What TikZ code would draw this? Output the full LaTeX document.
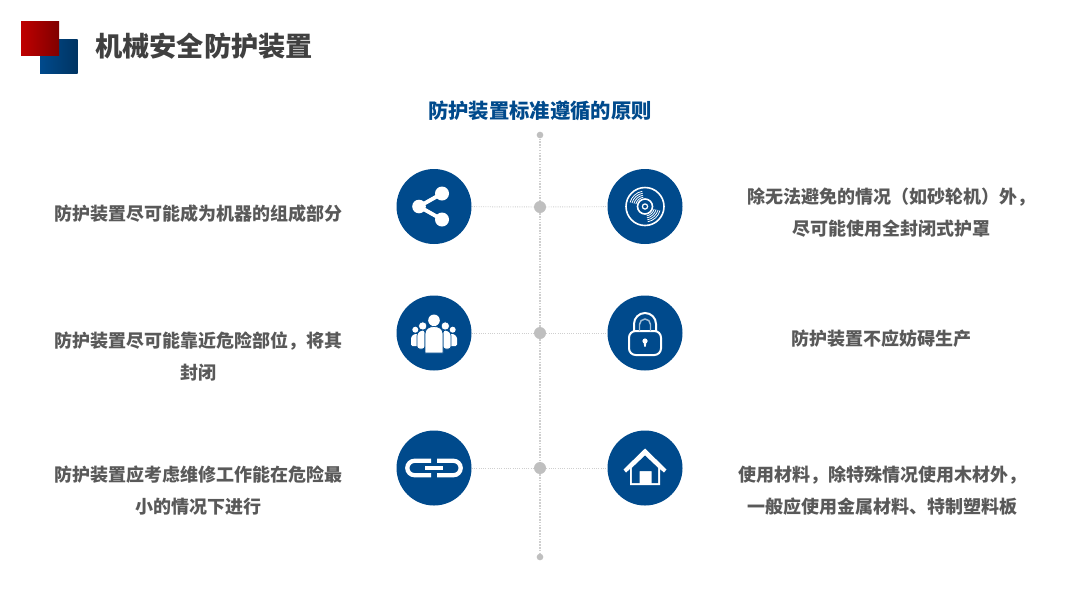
\documentclass[tikz,border=0pt]{standalone}
\usepackage{fontspec}
\setmainfont{Noto Sans CJK SC}
\definecolor{navy}{HTML}{004A8C}
\definecolor{ink}{HTML}{595959}
\definecolor{titleink}{HTML}{404040}
\definecolor{dotgrey}{HTML}{BFBFBF}
\definecolor{linegrey}{HTML}{CFCFCF}
\tikzset{
  disc/.style={circle,fill=navy,minimum size=56.25pt,inner sep=0pt},
  hub/.style={circle,fill=dotgrey,minimum size=9pt,inner sep=0pt},
  endhub/.style={circle,fill=dotgrey,minimum size=5pt,inner sep=0pt},
  link/.style={linegrey,line width=.7pt,densely dotted},
  spine/.style={linegrey,line width=1.1pt,densely dotted},
  body/.style={font=\fontsize{13.5}{24}\selectfont\bfseries,text=ink,align=center,inner sep=0pt},
  iconarea/.style={shift={(#1)},white,x=.75pt,y=.75pt},
}
\begin{document}
\begin{tikzpicture}[x=.75pt,y=-.75pt]
\useasboundingbox (0,0) rectangle (1080,608);
% header squares
\path[shading=axis,left color=navy,right color=navy!70!black,shading angle=90] (40,39) rectangle (77.5,73.5);
\path[shading=axis,left color=red!75!black,right color=red!50!black,shading angle=90] (21,21) rectangle (59,55.5);
\node[anchor=west,inner sep=0pt,text=titleink,font=\fontsize{20.4}{24}\selectfont\bfseries] (title) at (95,46) {机械安全防护装置};
\node[inner sep=0pt,text=navy,font=\fontsize{15.25}{20}\selectfont\bfseries] (sub) at (540,111) {防护装置标准遵循的原则};
% hubs
\node[endhub] (top) at (540,135) {};
\node[endhub] (bot) at (540,557) {};
\node[hub] (h1) at (540,207) {};
\node[hub] (h2) at (540,333) {};
\node[hub] (h3) at (540,468) {};
\draw[spine] (top) -- (h1);
\draw[spine] (h1) -- (h2);
\draw[spine] (h2) -- (h3);
\draw[spine] (h3) -- (bot);
% discs
\node[disc] (a1) at (434,206.5) {};
\node[disc] (b1) at (645,206.5) {};
\node[disc] (a2) at (434,333) {};
\node[disc] (b2) at (645,333) {};
\node[disc] (a3) at (434,468) {};
\node[disc] (b3) at (645,468) {};
\foreach \n in {1,2,3}{
  \draw[link] (a\n) -- (h\n);
  \draw[link] (h\n) -- (b\n);
}
% share icon
\begin{scope}[iconarea=a1]
  \draw[line width=2.9pt] (8,13)--(-15,0)--(8,-13);
  \fill (-15,0) circle[radius=6.8];
  \fill (8,13) circle[radius=7];
  \fill (8,-13) circle[radius=7];
\end{scope}
% disc icon
\begin{scope}[iconarea=b1]
  \draw[line width=1.2pt] (0,0) circle[radius=19];
  \draw[line width=1.2pt] (0,0) circle[radius=7.5];
  \draw[line width=.9pt] (0,0) circle[radius=2.6];
  \foreach \r in {9.5,11.5,13.5,15.5}{
    \draw[line width=.6pt] (100:\r) arc[start angle=100,end angle=165,radius=\r];
    \draw[line width=.6pt] (280:\r) arc[start angle=280,end angle=345,radius=\r];
  }
\end{scope}
% people icon
\begin{scope}[iconarea=a2]
  \fill (-18.7,3.3) circle[radius=3];
  \fill (18.7,3.3) circle[radius=3];
  \fill[rounded corners=1pt] (-23,-13)--(-23,-4)--(-20,-1)--(-15,-1)--(-15,-13)--cycle;
  \fill[rounded corners=1pt] (23,-13)--(23,-4)--(20,-1)--(15,-1)--(15,-13)--cycle;
  \fill[draw=navy,line width=.5pt] (-11.3,7) circle[radius=4.2];
  \fill[draw=navy,line width=.5pt] (11.3,7) circle[radius=4.2];
  \fill[draw=navy,line width=.5pt,rounded corners=2pt] (-17,-16)--(-17,0)--(-13,3)--(-9,3)--(-9,-16)--cycle;
  \fill[draw=navy,line width=.5pt,rounded corners=2pt] (17,-16)--(17,0)--(13,3)--(9,3)--(9,-16)--cycle;
  \fill (0,12.7) circle[radius=5.8];
  \fill[draw=navy,line width=.5pt] (-9,-20)--(-9,-1) .. controls (-9,4) and (-5,6.5) .. (0,6.5) .. controls (5,6.5) and (9,4) .. (9,-1)--(9,-20)--cycle;
\end{scope}
% lock icon
\begin{scope}[iconarea=b2]
  \draw[line width=1.5pt,rounded corners=5pt] (-16,2) rectangle (16,-22);
  \draw[line width=1.5pt] (-11,2)--(-11,9) arc[start angle=180,end angle=0,radius=11]--(11,2);
  \draw[white!65!navy,line width=1.1pt] (-5.5,2)--(-5.5,8.5) arc[start angle=180,end angle=0,radius=5.5]--(5.5,2);
  \fill (0,-8) circle[radius=2.6];
  \fill (-1.4,-9)--(1.4,-9)--(.8,-13.5)--(-.8,-13.5)--cycle;
\end{scope}
% chain icon
\begin{scope}[iconarea=a3]
  \draw[line width=3.2pt] (-3,7.2)--(-19.5,7.2) arc[start angle=90,end angle=270,radius=7.2]--(-3,-7.2);
  \draw[line width=3.2pt] (3,7.2)--(19.5,7.2) arc[start angle=90,end angle=-90,radius=7.2]--(3,-7.2);
  \draw[line width=2.5pt] (-9,0)--(9,0);
\end{scope}
% house icon
\begin{scope}[iconarea=b3]
  \fill (0,19.5)--(21.5,-1.5)--(19,-4.5)--(15,-1)--(15,-17)--(-15,-17)--(-15,-1)--(-19,-4.5)--(-21.5,-1.5)--cycle;
  \fill[navy] (0,12.5)--(13.2,0)--(13.2,-15.2)--(6.5,-15.2)--(6.5,-3)--(-5.5,-3)--(-5.5,-15.2)--(-13.2,-15.2)--(-13.2,0)--cycle;
\end{scope}
% texts
\node[body] (l1) at (198,214) {防护装置尽可能成为机器的组成部分};
\node[body] (l2) at (198,356) {防护装置尽可能靠近危险部位^^^^ff0c将其\\封闭};
\node[body] (l3) at (198,491) {防护装置应考虑维修工作能在危险最\\小的情况下进行};
\node[body] (r1) at (891,213) {除无法避免的情况^^^^ff08如砂轮机^^^^ff09外^^^^ff0c\\尽可能使用全封闭式护罩};
\node[body] (r2) at (881,339) {防护装置不应妨碍生产};
\node[body] (r3) at (882,491) {使用材料^^^^ff0c除特殊情况使用木材外^^^^ff0c\\一般应使用金属材料、特制塑料板};
\end{tikzpicture}
\end{document}
